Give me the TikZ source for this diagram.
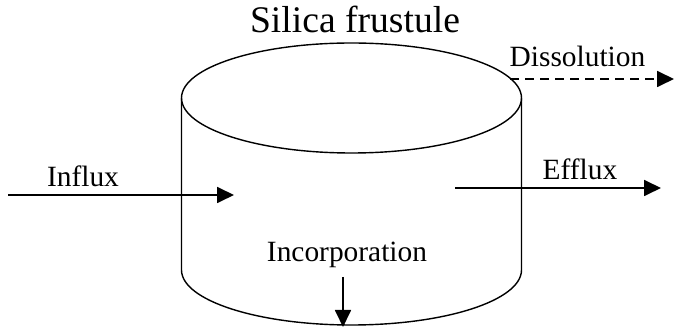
\documentclass[tikz,border=0pt]{standalone}
\usepackage{fontspec}
\setmainfont{Liberation Serif}
\usetikzlibrary{arrows.meta}
\begin{document}
\begin{tikzpicture}[x=1pt,y=-1pt,
  outline/.style={line width=1.4pt},
  flow/.style={line width=1.8pt,-{Triangle[length=17pt,width=16pt]}},
  lbl/.style={anchor=base,inner sep=0pt,font=\fontsize{29.4}{32}\selectfont},
  ttl/.style={anchor=base,inner sep=0pt,font=\fontsize{37.6}{40}\selectfont}]
\useasboundingbox (0,0) rectangle (678,328);
% cylinder
\draw[outline] (351.5,98) ellipse [x radius=170pt, y radius=55pt];
\draw[outline] (181.5,98) -- (181.5,270) arc[start angle=180,end angle=360,x radius=170pt,y radius=55pt] -- (521.5,98);
% labels
\node[ttl] (title) at (355,33) {Silica frustule};
\node[lbl] (influx) at (83,187) {Influx};
\node[lbl] (efflux) at (580,180) {Efflux};
\node[lbl] (diss) at (577.5,67) {Dissolution};
\node[lbl] (inc) at (347,262) {Incorporation};
% arrow endpoints
\coordinate (inA) at (8,195);
\coordinate (inB) at (234,195);
\coordinate (efA) at (455,188);
\coordinate (efB) at (661,188);
\coordinate (dsA) at (510,79);
\coordinate (dsB) at (674,79);
\coordinate (icA) at (343,277);
\coordinate (icB) at (343,327);
\draw[flow] (inA) -- (inB);
\draw[flow] (efA) -- (efB);
\draw[flow,dash pattern=on 9pt off 6pt] (dsA) -- (dsB);
\draw[flow] (icA) -- (icB);
\end{tikzpicture}
\end{document}
